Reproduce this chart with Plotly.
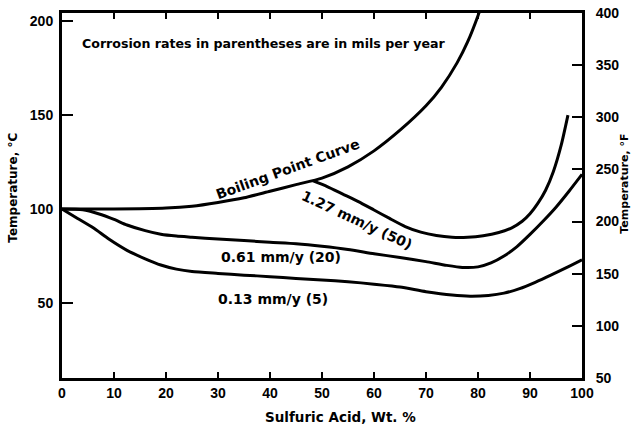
import plotly.graph_objects as go

# Data (Sulfuric acid wt % vs temperature in deg C)
boil_pct = [0, 10, 20, 25, 30, 35, 40, 45, 50, 55, 60, 65, 70, 73, 76, 78, 80, 80.6]
boil_temp = [100, 100, 100.5, 101.5, 103.5, 106, 109.5, 113, 116.5, 122.5, 131, 142, 155, 165, 178, 189, 203, 208]

r127_pct = [48.3, 51, 54, 57, 60, 63, 66, 69, 72, 75, 78, 81, 84, 86.5, 88.5, 90, 91.5, 93, 94.5, 96, 97.3]
r127_temp = [115, 112, 108, 104, 99.5, 95, 90.7, 87.7, 85.9, 85, 85, 85.8, 87.5, 90, 93.5, 97.5, 103, 110, 120, 134, 150]

r061_pct = [0, 4, 7, 10, 12.5, 16, 19, 22, 25, 30, 35, 40, 45, 50, 55, 60, 65, 70, 74, 77, 80, 82.5, 85, 87.5, 90, 92.5, 95, 97.5, 100]
r061_temp = [100, 99.6, 97.5, 94.5, 91.5, 88.5, 86.6, 85.6, 85, 84, 83.2, 82.3, 81.5, 80.2, 78.5, 76.2, 74.2, 72, 70, 68.9, 69.2, 71.3, 75, 80, 86.5, 93.5, 101, 109.5, 118.5]

r013_pct = [0, 3, 6, 9, 12.5, 16, 19, 22, 25, 30, 35, 40, 45, 50, 55, 60, 65, 70, 75, 78.5, 82, 85, 88, 91, 94, 97, 100]
r013_temp = [100, 95, 90, 84, 78, 73.5, 70.2, 68, 66.7, 65.7, 64.8, 64, 63, 62.2, 61.3, 60, 58.5, 56, 54.2, 53.6, 54, 55.2, 57.6, 61, 64.8, 68.8, 73]

x_ticks = [0, 10, 20, 30, 40, 50, 60, 70, 80, 90, 100]
c_ticks = [50, 100, 150, 200]
f_ticks = [50, 100, 150, 200, 250, 300, 350, 400]

TICKFONT = dict(family="Liberation Sans", size=14, color="black", weight="bold")
LBL = "DejaVu Sans"


def lf(size):
    return dict(family=LBL, size=size, color="black", weight="bold")


fig = go.Figure()
for xs, ys in [(boil_pct, boil_temp), (r127_pct, r127_temp), (r061_pct, r061_temp), (r013_pct, r013_temp)]:
    fig.add_trace(go.Scatter(x=xs, y=ys, mode="lines",
                             line=dict(color="black", width=3, shape="spline", smoothing=0.6),
                             showlegend=False, hoverinfo="skip"))
# invisible trace for the Fahrenheit axis
fig.add_trace(go.Scatter(x=[0], y=[50], yaxis="y2", mode="markers", marker=dict(opacity=0),
                         showlegend=False, hoverinfo="skip"))

fig.update_layout(
    width=631, height=427,
    margin=dict(l=62, r=49, t=5, b=49),
    paper_bgcolor="white", plot_bgcolor="white",
    font=TICKFONT,
    xaxis=dict(range=[0, 100], tickvals=x_ticks,
               ticks="inside", ticklen=6, tickwidth=2, tickcolor="black",
               showline=True, linewidth=3, linecolor="black", mirror="ticks",
               showgrid=False, zeroline=False, tickfont=TICKFONT, ticklabelstandoff=0),
    yaxis=dict(range=[10, 204.44], tickvals=c_ticks, ticks="inside", ticklen=11, tickwidth=2, tickcolor="black",
               showline=True, linewidth=3, linecolor="black", mirror=True,
               showgrid=False, zeroline=False, tickfont=TICKFONT, ticklabelstandoff=3,
               ticklabeloverflow="allow"),
    yaxis2=dict(range=[50, 400], tickvals=f_ticks, overlaying="y", side="right",
                ticks="inside", ticklen=10, tickwidth=2, tickcolor="black",
                showline=True, linewidth=3, linecolor="black",
                showgrid=False, zeroline=False, tickfont=TICKFONT, ticklabelstandoff=8,
                ticklabeloverflow="allow"),
)

ann = [
    dict(text="Corrosion rates in parentheses are in mils per year", x=38.75, y=188, textangle=0, size=12.6),
    dict(text="Boiling Point Curve", x=43.4, y=121.2, textangle=-20, size=14),
    dict(text="1.27 mm/y (50)", x=56.7, y=94.2, textangle=25, size=14),
    dict(text="0.61 mm/y (20)", x=42.1, y=74.3, textangle=0, size=14),
    dict(text="0.13 mm/y (5)", x=40.6, y=52, textangle=0, size=14),
]
for a in ann:
    fig.add_annotation(text=a["text"], x=a["x"], y=a["y"], xref="x", yref="y", showarrow=False,
                       textangle=a["textangle"], font=lf(a["size"]))

# axis titles
fig.add_annotation(text="Sulfuric Acid, Wt. %", x=53.5, xref="x", y=0, yref="paper", yanchor="middle",
                   yshift=-39, showarrow=False, font=lf(13.5))
fig.add_annotation(text="Temperature, °C", x=0, xref="paper", xanchor="center", xshift=-49,
                   y=111.4, yref="y", textangle=-90, showarrow=False, font=lf(12))
fig.add_annotation(text="Temperature, °F", x=1, xref="paper", xanchor="center", xshift=43,
                   y=113.5, yref="y", textangle=-90, showarrow=False, font=lf(11))

fig.write_html("out.html")
